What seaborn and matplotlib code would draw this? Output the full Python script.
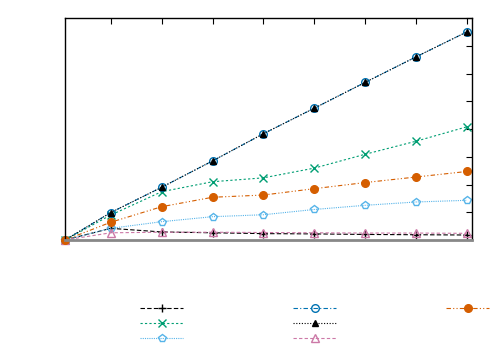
import matplotlib
matplotlib.use('Agg')
import matplotlib.pyplot as plt
from matplotlib.lines import Line2D
import seaborn as sns

# Dữ liệu
x = [1, 10, 20, 30, 40, 50, 60, 70, 80]
plus_black = [0, 0.42, 0.29, 0.26, 0.23, 0.22, 0.20, 0.19, 0.18]
cross_green = [0, 0.90, 1.74, 2.10, 2.24, 2.59, 3.09, 3.56, 4.08]
penta_lightblue = [0, 0.42, 0.66, 0.84, 0.91, 1.10, 1.25, 1.37, 1.43]
circle_blue = [0, 0.99, 1.90, 2.85, 3.83, 4.75, 5.68, 6.60, 7.50]
triangle_black = [0, 0.99, 1.90, 2.85, 3.83, 4.75, 5.68, 6.60, 7.50]
triangle_pink = [0, 0.26, 0.28, 0.28, 0.27, 0.26, 0.25, 0.25, 0.24]
dot_orange = [0, 0.64, 1.20, 1.54, 1.62, 1.85, 2.07, 2.27, 2.47]

x_ticks = [10, 20, 30, 40, 50, 60, 70, 80]
y_ticks = [0, 1, 2, 3, 4, 5, 6, 7, 8]

series = [
    (plus_black, '#000000', '+', (0, (4, 2)), False, 6),
    (cross_green, '#009e73', 'x', (0, (2, 2)), False, 5.5),
    (penta_lightblue, '#56b4e9', 'p', (0, (1, 1)), False, 5.5),
    (circle_blue, '#0072b2', 'o', (0, (4, 2, 1, 2)), False, 5.5),
    (triangle_black, '#000000', '^', (0, (1, 1.5)), True, 4.5),
    (triangle_pink, '#cc79a7', '^', (0, (3, 2)), False, 5.5),
    (dot_orange, '#d55e00', 'o', (0, (4, 2, 1, 2, 1, 2)), True, 5.5),
]

sns.set_style('white')
fig = plt.figure(figsize=(5, 3.5), dpi=100)
ax = fig.add_axes([0.13, 1 - 240 / 350, 0.814, 222 / 350])

handles = []
for y, color, marker, ls, filled, ms in series:
    sns.lineplot(x=x, y=y, ax=ax, color=color, marker=marker, linestyle=ls,
                 linewidth=0.8, markersize=ms,
                 markerfacecolor=color if filled else 'none',
                 markeredgecolor=color, markeredgewidth=1.0, clip_on=False)
    handles.append(ax.lines[-1])

ax.set_xlim(1, 81)
ax.set_ylim(0, 8)
ax.set_xticks(x_ticks)
ax.set_yticks(y_ticks)
ax.tick_params(direction='in', length=4.5, width=0.8, top=True, right=True,
               labelbottom=False, labelleft=False, colors='black')
ax.set_xlabel('')
ax.set_ylabel('')
for side in ['left', 'right', 'top']:
    ax.spines[side].set_color('black')
    ax.spines[side].set_linewidth(1.0)
ax.spines['bottom'].set_color('#888888')
ax.spines['bottom'].set_linewidth(2.0)

# thêm 2 mục trống để cột cuối chỉ có 1 mục
blank = Line2D([], [], linestyle='none', marker='none')
leg_handles = handles + [blank, blank]
fig.legend(leg_handles, [''] * len(leg_handles), ncol=3, frameon=False,
           loc='upper left', bbox_to_anchor=(140 / 500, 1 - 304 / 350),
           fontsize=8, handlelength=43 / 11.1, handletextpad=0,
           columnspacing=110 / 11.1, labelspacing=0.44, borderpad=0,
           borderaxespad=0)

fig.savefig('out.png', dpi=100)
